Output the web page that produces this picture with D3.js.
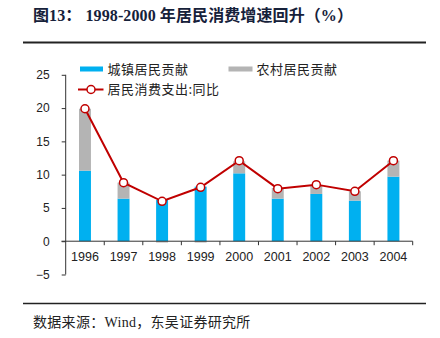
<!DOCTYPE html>
<html>
<head>
<meta charset="utf-8">
<script src="https://cdn.jsdelivr.net/npm/d3@7"></script>
<style>
  html, body { margin: 0; padding: 0; background: #fff; }
  svg { display: block; }
</style>
</head>
<body>
<svg id="chart" width="440" height="338"></svg>
<script>
const years = ["1996","1997","1998","1999","2000","2001","2002","2003","2004"];
const urbanContribution = [10.6, 6.4, 6.2, 8.2, 10.2, 6.4, 7.1, 6.1, 9.7];
const ruralContribution = [9.3, 2.4, -0.2, -0.2, 1.8, 1.6, 1.3, 1.4, 2.4];
const consumptionGrowth = [19.9, 8.8, 6.0, 8.1, 12.1, 7.9, 8.5, 7.5, 12.1];
const yTicks = [-5, 0, 5, 10, 15, 20, 25];
const seriesNames = ["城镇居民贡献", "农村居民贡献", "居民消费支出:同比"];
const titleText = "图13： 1998-2000 年居民消费增速回升（%）";
const sourceText = "数据来源：Wind，东吴证券研究所";

const BLUE = "#00B0F0", GRAY = "#B4B4B4", RED = "#C00000";
const svg = d3.select("#chart");

// Title
svg.append("text").attr("x", 33).attr("y", 21)
  .attr("font-family", "'Liberation Serif','Noto Sans CJK SC',serif")
  .attr("font-weight", "bold").attr("font-size", 16).attr("letter-spacing", 0.1).attr("fill", "#16213a")
  .text(titleText);
svg.append("line").attr("x1", 23).attr("x2", 426).attr("y1", 42.5).attr("y2", 42.5)
  .attr("stroke", "#222").attr("stroke-width", 2);

// Scales
const x = d3.scaleBand().domain(years).range([65.7, 412.7]).padding(0);
const y = d3.scaleLinear().domain([-5, 25]).range([274.5, 74.8]);
const barW = x.bandwidth() * 0.31;

// Bars
const g = svg.append("g");
years.forEach((yr, i) => {
  const bx = x(yr) + (x.bandwidth() - barW) / 2;
  const u = urbanContribution[i], r = ruralContribution[i];
  g.append("rect").attr("x", bx).attr("width", barW)
    .attr("y", y(Math.max(0, u))).attr("height", Math.abs(y(u) - y(0)))
    .attr("fill", BLUE);
  if (r >= 0) {
    g.append("rect").attr("x", bx).attr("width", barW)
      .attr("y", y(u + r)).attr("height", y(u) - y(u + r)).attr("fill", GRAY);
  } else {
    g.append("rect").attr("x", bx).attr("width", barW)
      .attr("y", y(0)).attr("height", y(r) - y(0)).attr("fill", GRAY);
  }
});

// Y axis
const yAxis = d3.axisLeft(y).tickValues(yTicks).tickSize(4).tickPadding(12)
  .tickFormat(d => d < 0 ? "\u2212" + Math.abs(d) : d);
const yg = svg.append("g").attr("transform", "translate(65.7,0)").call(yAxis);
yg.select(".domain").attr("stroke", "#333").attr("d", `M0,${y(25)}V${y(-5)}`);
yg.selectAll(".tick line").attr("stroke", "#333");
yg.selectAll("text").attr("font-family", "'Liberation Sans',Arial,sans-serif")
  .attr("font-size", 12).attr("fill", "#222");

// X axis at zero
const xg = svg.append("g").attr("transform", `translate(0,${y(0)})`);
xg.append("line").attr("x1", 61.5).attr("x2", 412.7).attr("stroke", "#333");
xg.selectAll(".bt").data(years).enter().append("line")
  .attr("x1", d => x(d) + x.bandwidth()).attr("x2", d => x(d) + x.bandwidth())
  .attr("y1", 0).attr("y2", 4).attr("stroke", "#333");
xg.selectAll(".xl").data(years).enter().append("text")
  .attr("x", d => x(d) + x.bandwidth() / 2).attr("y", 20)
  .attr("text-anchor", "middle").attr("font-family", "'Liberation Sans',Arial,sans-serif")
  .attr("font-size", 12.5).attr("fill", "#222").text(d => d);

// Line
const line = d3.line().x((d, i) => x(years[i]) + x.bandwidth() / 2).y(d => y(d));
svg.append("path").datum(consumptionGrowth).attr("d", line)
  .attr("fill", "none").attr("stroke", RED).attr("stroke-width", 2);
svg.selectAll(".pt").data(consumptionGrowth).enter().append("circle")
  .attr("cx", (d, i) => x(years[i]) + x.bandwidth() / 2).attr("cy", d => y(d))
  .attr("r", 4).attr("fill", "#fff").attr("stroke", RED).attr("stroke-width", 1.5);

// Legend
const lf = "'Noto Sans CJK SC',sans-serif";
const leg = svg.append("g");
leg.append("rect").attr("x", 80).attr("y", 66.5).attr("width", 23).attr("height", 5).attr("fill", BLUE);
leg.append("text").attr("x", 107.5).attr("y", 73.5).attr("font-family", lf).attr("font-size", 13)
  .attr("letter-spacing", 0.5).attr("fill", "#222").text(seriesNames[0]);
leg.append("rect").attr("x", 228.5).attr("y", 66.5).attr("width", 24).attr("height", 5).attr("fill", GRAY);
leg.append("text").attr("x", 256.5).attr("y", 73.5).attr("font-family", lf).attr("font-size", 13)
  .attr("letter-spacing", 0.5).attr("fill", "#222").text(seriesNames[1]);
leg.append("line").attr("x1", 78).attr("x2", 103.5).attr("y1", 89.5).attr("y2", 89.5)
  .attr("stroke", RED).attr("stroke-width", 2);
leg.append("circle").attr("cx", 91).attr("cy", 89.5).attr("r", 4)
  .attr("fill", "#fff").attr("stroke", RED).attr("stroke-width", 1.5);
leg.append("text").attr("x", 107.5).attr("y", 94).attr("font-family", lf).attr("font-size", 13)
  .attr("letter-spacing", 0.5).attr("fill", "#222").text(seriesNames[2]);

// Source
svg.append("line").attr("x1", 23).attr("x2", 426).attr("y1", 303.5).attr("y2", 303.5)
  .attr("stroke", "#222").attr("stroke-width", 1.5);
svg.append("text").attr("x", 33).attr("y", 327)
  .attr("font-family", "'Liberation Serif','Noto Sans CJK SC',serif")
  .attr("font-size", 14).attr("letter-spacing", 0.3).attr("fill", "#222").text(sourceText);
</script>
</body>
</html>
